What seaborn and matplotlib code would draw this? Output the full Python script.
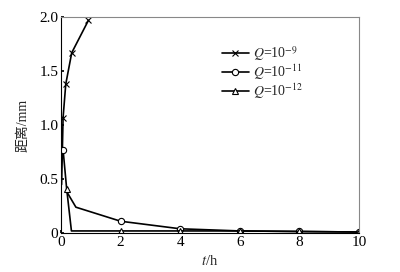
import matplotlib
matplotlib.use("Agg")
import matplotlib.pyplot as plt
import pandas as pd
import seaborn as sns

# values
t_q9 = [0.02, 0.07, 0.16, 0.36, 0.92]
d_q9 = [0.45, 1.07, 1.38, 1.67, 1.97]
mk_q9 = [1, 2, 3, 4]

t_q11 = [0.07, 0.20, 0.50, 2, 4, 6, 8, 10]
d_q11 = [0.77, 0.38, 0.24, 0.11, 0.04, 0.02, 0.015, 0.01]
mk_q11 = [0, 3, 4, 5, 6, 7]

t_q12 = [0.19, 0.35, 2, 4, 6, 8, 10]
d_q12 = [0.41, 0.02, 0.02, 0.02, 0.02, 0.015, 0.01]
mk_q12 = [0, 2, 3, 4, 5, 6]

labels = [r"$Q$=10$^{-9}$", r"$Q$=10$^{-11}$", r"$Q$=10$^{-12}$"]
x_ticks = [0, 2, 4, 6, 8, 10]
y_ticks = [0, 0.5, 1.0, 1.5, 2.0]
y_tick_labels = ["0", "0.5", "1.0", "1.5", "2.0"]

sns.set_theme(style="ticks")
plt.rcParams["font.family"] = ["Liberation Serif", "Noto Sans CJK SC"]
plt.rcParams["mathtext.fontset"] = "stix"

fig = plt.figure(figsize=(4.0, 2.72), dpi=100)
ax = fig.add_axes([0.1525, 0.143, 0.745, 0.794])

series = [
    (t_q9, d_q9, mk_q9, "x", "black"),
    (t_q11, d_q11, mk_q11, "o", "white"),
    (t_q12, d_q12, mk_q12, "^", "white"),
]
for (t, d, mk, marker, face), lab in zip(series, labels):
    df = pd.DataFrame({"t": t, "d": d})
    sns.lineplot(
        data=df, x="t", y="d", ax=ax, color="black", linewidth=1.2,
        marker=marker, markersize=4.5, markerfacecolor=face,
        markeredgecolor="black", markeredgewidth=0.8,
        markevery=mk, label=lab, sort=False,
    )

ax.set_xlim(0, 10)
ax.set_ylim(0, 2.0)
ax.set_xticks(x_ticks)
ax.set_yticks(y_ticks)
ax.set_yticklabels(y_tick_labels)
ax.tick_params(direction="in", length=2, labelsize=11, pad=2, colors="black")
ax.set_xlabel(r"$t$/h", fontsize=10.5, labelpad=4)
ax.set_ylabel("距离/mm", fontsize=10, labelpad=7)

for side in ["left", "bottom"]:
    ax.spines[side].set_color("black")
    ax.spines[side].set_linewidth(0.8)
for side in ["top", "right"]:
    ax.spines[side].set_visible(True)
    ax.spines[side].set_color("#888888")
    ax.spines[side].set_linewidth(0.8)

ax.legend(
    loc="upper left", bbox_to_anchor=(0.52, 0.9), frameon=False,
    fontsize=10, handlelength=2.0, handletextpad=0.3, labelspacing=-0.05,
    borderaxespad=0,
)

fig.savefig("out.png", dpi=100)
